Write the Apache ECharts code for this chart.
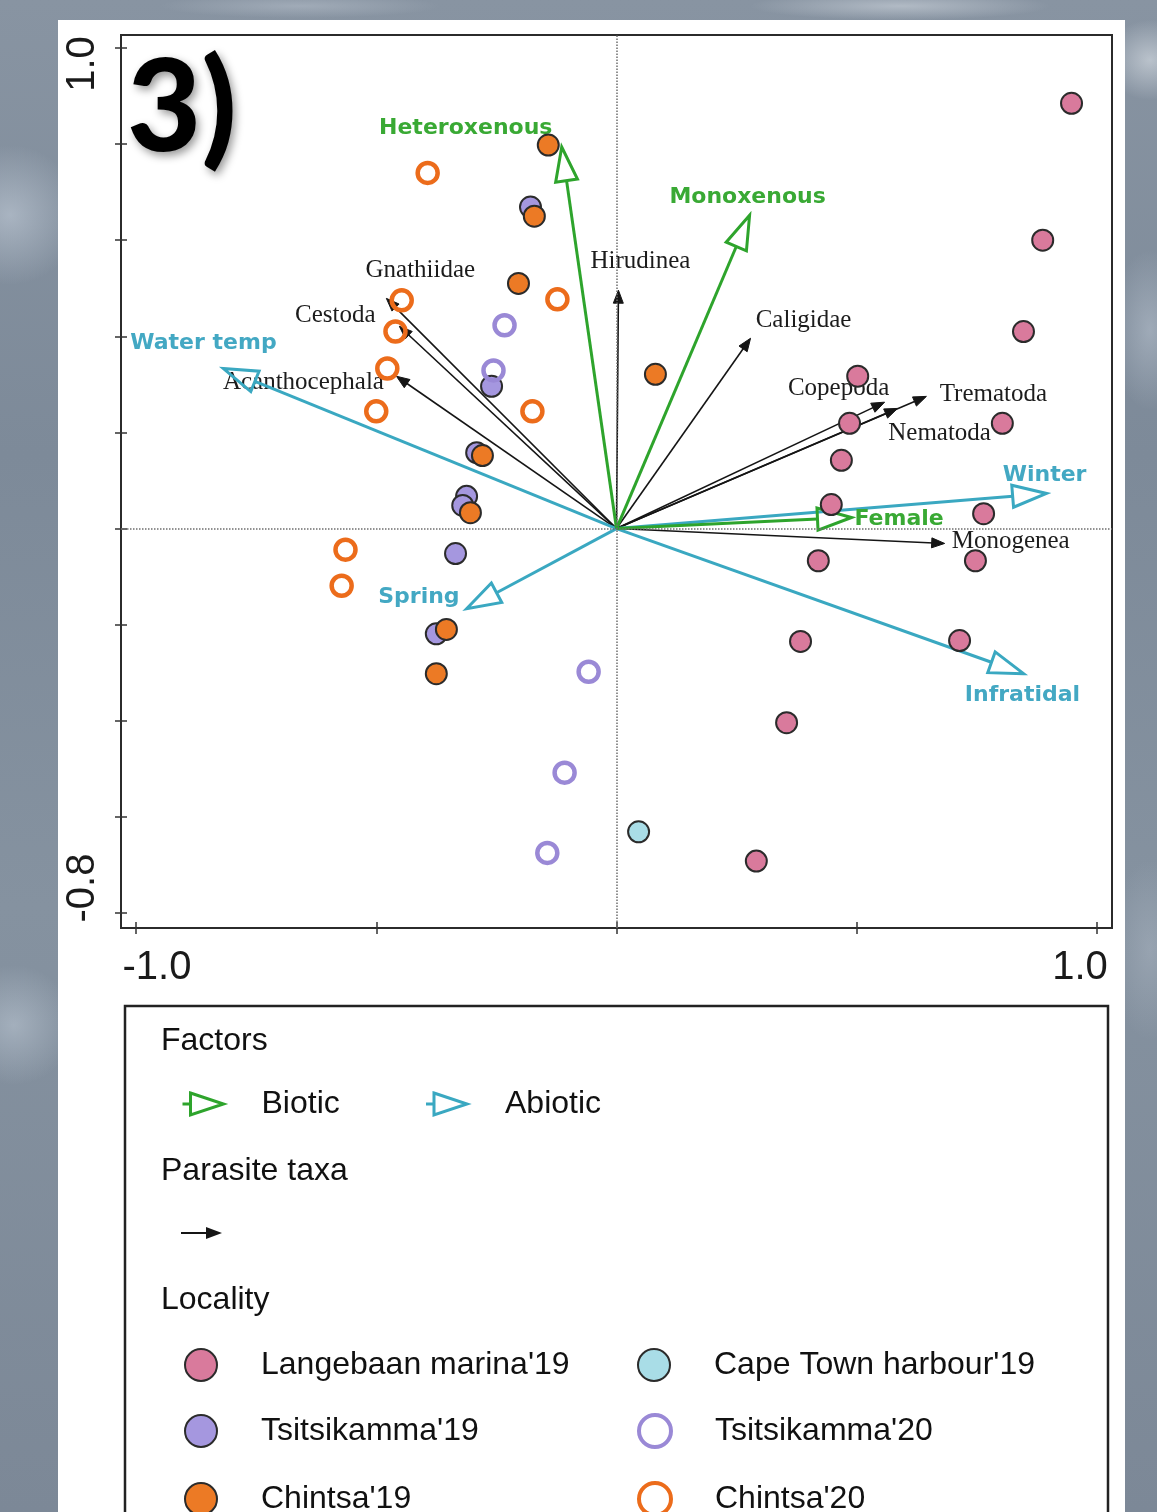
<!DOCTYPE html>
<html>
<head>
<meta charset="utf-8">
<script src="https://cdn.jsdelivr.net/npm/echarts@6/dist/echarts.min.js"></script>
<style>
  html, body { margin: 0; padding: 0; width: 1157px; height: 1512px; overflow: hidden; }
  body {
    background:
      radial-gradient(ellipse 70px 70px at 10px 215px, rgba(200,210,222,0.55), rgba(200,210,222,0) 100%),
      radial-gradient(ellipse 60px 60px at 14px 1025px, rgba(195,206,218,0.5), rgba(195,206,218,0) 100%),
      radial-gradient(ellipse 45px 40px at 1150px 60px, rgba(220,226,232,0.6), rgba(220,226,232,0) 100%),
      radial-gradient(ellipse 40px 80px at 1150px 330px, rgba(190,200,212,0.5), rgba(190,200,212,0) 100%),
      radial-gradient(ellipse 40px 90px at 1150px 950px, rgba(180,190,202,0.4), rgba(180,190,202,0) 100%),
      radial-gradient(ellipse 150px 14px at 900px 6px, rgba(205,212,220,0.6), rgba(205,212,220,0) 100%),
      radial-gradient(ellipse 140px 12px at 300px 6px, rgba(185,194,205,0.5), rgba(185,194,205,0) 100%),
      linear-gradient(180deg, #8894a2 0%, #7d8a99 30%, #8592a0 60%, #7c8897 100%);
  }
  #panel { position: absolute; left: 58px; top: 20px; width: 1067px; height: 1492px; background: #fff; }
  #chart { position: absolute; left: 0; top: 0; width: 1157px; height: 1512px; }
</style>
</head>
<body>
<div id="panel"></div>
<div id="chart"></div>
<script>
// ---- Tick labels shown on the axes ----
const xLabelValues = [-1.0, 1.0];
const yLabelValues = [-0.8, 1.0];

// ---- Sample scores by locality: [axis 1, axis 2] ----
const langebaan19 = [[0.947, 0.885], [0.887, 0.600], [0.847, 0.410], [0.502, 0.317], [0.485, 0.219],
  [0.803, 0.219], [0.468, 0.142], [0.447, 0.050], [0.764, 0.031], [0.420, -0.067], [0.747, -0.067],
  [0.383, -0.235], [0.714, -0.233], [0.354, -0.404], [0.291, -0.692]];
const capeTown19 = [[0.046, -0.631]];
const tsitsikamma19 = [[-0.179, 0.669], [-0.260, 0.296], [-0.291, 0.158], [-0.312, 0.067],
  [-0.320, 0.048], [-0.335, -0.052], [-0.375, -0.219]];
const tsitsikamma20 = [[-0.233, 0.423], [-0.256, 0.329], [-0.058, -0.298], [-0.108, -0.508], [-0.144, -0.675]];
const chintsa19 = [[-0.142, 0.798], [-0.171, 0.650], [-0.204, 0.510], [0.081, 0.321], [-0.279, 0.152],
  [-0.304, 0.033], [-0.354, -0.210], [-0.375, -0.302]];
const chintsa20 = [[-0.393, 0.740], [-0.447, 0.475], [-0.460, 0.410], [-0.477, 0.333], [-0.123, 0.477],
  [-0.500, 0.244], [-0.175, 0.244], [-0.564, -0.044], [-0.572, -0.119]];

// ---- Explanatory vectors: [name, axis 1, axis 2] ----
const bioticFactors = [['Heteroxenous', -0.114, 0.794], ['Monoxenous', 0.277, 0.652], ['Female', 0.489, 0.023]];
const abioticFactors = [['Water temp', -0.818, 0.333], ['Winter', 0.895, 0.073], ['Spring', -0.312, -0.167],
  ['Infratidal', 0.847, -0.302]];
const parasiteTaxa = [['Gnathiidae', -0.479, 0.479], ['Cestoda', -0.452, 0.421], ['Acanthocephala', -0.458, 0.317],
  ['Hirudinea', 0.004, 0.496], ['Caligidae', 0.279, 0.396], ['Copepoda', 0.558, 0.263], ['Nematoda', 0.585, 0.250],
  ['Trematoda', 0.645, 0.275], ['Monogenea', 0.683, -0.031]];

// Label placement next to each arrow tip: [dx px, dy px, text align]
const labelPlacement = {
  'Heteroxenous': [-96, -19, 'center'], 'Monoxenous': [-2, -18, 'center'], 'Female': [3, 2, 'left'],
  'Water temp': [-20, -25, 'center'], 'Winter': [-2, -18, 'center'], 'Spring': [-7, -12, 'right'],
  'Infratidal': [-1, 22, 'center'],
  'Gnathiidae': [34, -28, 'center'], 'Cestoda': [-64, -11, 'center'], 'Acanthocephala': [-93, 6, 'center'],
  'Hirudinea': [22, -29, 'center'], 'Caligidae': [53, -18, 'center'], 'Copepoda': [-46, -14, 'center'],
  'Nematoda': [42, 25, 'center'], 'Trematoda': [67, -2, 'center'], 'Monogenea': [66, -2, 'center']
};

const GREEN = '#2ea42c', GREEN_TEXT = '#39a934';
const CYAN = '#3aa8c1', CYAN_TEXT = '#43a8c3';
const INK = '#151515';
const SANS = '"Liberation Sans", Arial, sans-serif';

function arrowSeries(name, source, look) {
  return {
    type: 'custom', name, coordinateSystem: 'cartesian2d', xAxisIndex: 0, yAxisIndex: 0,
    z: look.z, silent: true,
    data: source.map(d => [d[1], d[2]]),
    encode: { x: 0, y: 1 },
    itemStyle: { color: look.color },
    renderItem(params, api) {
      const label = source[params.dataIndex][0];
      const o = api.coord([0, 0]);
      const t = api.coord([api.value(0), api.value(1)]);
      const dx = t[0] - o[0], dy = t[1] - o[1];
      const len = Math.hypot(dx, dy);
      const ux = dx / len, uy = dy / len, nx = -uy, ny = ux;
      const bx = t[0] - ux * look.headLen, by = t[1] - uy * look.headLen;
      const hw = look.headHalf;
      const head = [[t[0], t[1]], [bx + nx * hw, by + ny * hw], [bx - nx * hw, by - ny * hw]];
      const place = labelPlacement[label] || [0, 0, 'center'];
      return {
        type: 'group',
        children: [
          { type: 'line', shape: { x1: o[0], y1: o[1], x2: look.hollow ? bx : bx + ux * 2, y2: look.hollow ? by : by + uy * 2 },
            style: { stroke: look.color, lineWidth: look.width, fill: null } },
          { type: 'polygon', shape: { points: head },
            style: look.hollow ? { fill: 'rgba(0,0,0,0)', stroke: look.color, lineWidth: look.width, lineJoin: 'miter' }
                               : { fill: look.color, stroke: look.color, lineWidth: 1 } },
          { type: 'text', x: t[0] + place[0], y: t[1] + place[1],
            style: { text: label, fill: look.textColor, font: look.font, align: place[2], verticalAlign: 'middle' } }
        ]
      };
    }
  };
}

const filled = c => ({ color: c, borderColor: '#2b2b2b', borderWidth: 2, opacity: 1 });
const hollow = c => ({ color: 'rgba(0,0,0,0)', borderColor: c, borderWidth: 4.5, opacity: 1 });

const PINK = '#d97a9c', LIGHTBLUE = '#a9dde7', LAVENDER = '#a597df', LAVENDER_RING = '#9a89d6',
  ORANGE = '#ec7a25', ORANGE_RING = '#ec6c1b';

function scatter(name, data, style, size) {
  return { type: 'scatter', name, data, xAxisIndex: 0, yAxisIndex: 0, symbol: 'circle', symbolSize: size,
    itemStyle: style, z: 4, emphasis: { disabled: true } };
}

// Frame grid is 15 px wider than the tick span on left/right/bottom and 13 px on top.
const pxPerUnit = 961 / 2;
const frameX = [-1 - 15 / pxPerUnit, 1 + 15 / pxPerUnit];
const frameY = [-0.8 - 15 / pxPerUnit, 1.0 + 13 / pxPerUnit];

const near = (a, b) => Math.abs(a - b) < 1e-6;
const tickStyle = { show: true, inside: true, length: 12, lineStyle: { color: '#333', width: 1.5 } };
const FACTOR_FONT = 'bold 22px "DejaVu Sans", Verdana, sans-serif';

const chart = echarts.init(document.getElementById('chart'), null, { renderer: 'canvas' });
chart.setOption({
  animation: false,
  backgroundColor: 'transparent',
  grid: [
    { left: 136, right: 60, top: 48, bottom: 599 },
    { left: 121, right: 45, top: 35, bottom: 584, show: true, borderColor: '#2b2b2b', borderWidth: 2,
      backgroundColor: 'rgba(0,0,0,0)' }
  ],
  xAxis: [
    { gridIndex: 0, type: 'value', min: -1, max: 1, interval: 0.5, position: 'bottom', offset: 21,
      axisLine: { show: false, onZero: false }, splitLine: { show: false },
      axisTick: tickStyle,
      axisLabel: {
        margin: 14, color: '#1a1a1a', fontSize: 40, fontFamily: SANS,
        formatter: v => {
          if (near(v, xLabelValues[0])) return '{lo|' + xLabelValues[0].toFixed(1) + '}';
          if (near(v, xLabelValues[1])) return '{hi|' + xLabelValues[1].toFixed(1) + '}';
          return '';
        },
        rich: {
          lo: { fontSize: 40, fontFamily: SANS, color: '#1a1a1a', padding: [0, 0, 0, 42] },
          hi: { fontSize: 40, fontFamily: SANS, color: '#1a1a1a', padding: [0, 34, 0, 0] }
        }
      } },
    { gridIndex: 1, type: 'value', min: frameX[0], max: frameX[1], show: false, axisLine: { onZero: false } }
  ],
  yAxis: [
    { gridIndex: 0, type: 'value', min: -0.8, max: 1.0, interval: 0.2, position: 'left', offset: 21,
      axisLine: { show: false, onZero: false }, splitLine: { show: false },
      axisTick: tickStyle,
      axisLabel: {
        rotate: 90, margin: 12, color: '#1a1a1a', fontSize: 40, fontFamily: SANS,
        formatter: v => {
          if (near(v, yLabelValues[0])) return '{lo|' + yLabelValues[0].toFixed(1) + '}';
          if (near(v, yLabelValues[1])) return '{hi|' + yLabelValues[1].toFixed(1) + '}';
          return '';
        },
        rich: {
          lo: { fontSize: 40, fontFamily: SANS, color: '#1a1a1a', padding: [0, 0, 0, 50] },
          hi: { fontSize: 40, fontFamily: SANS, color: '#1a1a1a', padding: [0, 32, 0, 0] }
        }
      } },
    { gridIndex: 1, type: 'value', min: frameY[0], max: frameY[1], show: false, axisLine: { onZero: false } }
  ],
  legend: [
    { left: 181, top: 1088, padding: 0, orient: 'horizontal', selectedMode: false,
      itemWidth: 41, itemHeight: 24, itemGap: 43,
      textStyle: { fontSize: 32, fontFamily: SANS, color: '#111', width: 120, lineHeight: 32, padding: [0, 0, 0, 33] },
      data: [
        { name: 'Biotic', icon: 'path://M0,12L8,12M8,1L41,12L8,23Z',
          itemStyle: { color: 'rgba(0,0,0,0)', borderColor: GREEN, borderWidth: 3 } },
        { name: 'Abiotic', icon: 'path://M0,12L8,12M8,1L41,12L8,23Z',
          itemStyle: { color: 'rgba(0,0,0,0)', borderColor: CYAN, borderWidth: 3 } }
      ] },
    { left: 181, top: 1227, padding: 0, selectedMode: false, itemWidth: 41, itemHeight: 12,
      formatter: () => '', textStyle: { fontSize: 12, lineHeight: 12 },
      data: [{ name: 'Parasite taxa', icon: 'path://M0,5L28,5L28,7L0,7Z M25,0L41,6L25,12Z',
        itemStyle: { color: INK, borderWidth: 0 } }] },
    { left: 184, top: 1348, width: 900, padding: 0, orient: 'horizontal', selectedMode: false,
      itemWidth: 32, itemHeight: 32, itemGap: 32, icon: 'circle',
      textStyle: { fontSize: 32, fontFamily: SANS, color: '#111', width: 344, lineHeight: 32, padding: [0, 0, 0, 39] },
      data: [
        { name: "Langebaan marina'19", itemStyle: { borderWidth: 2 } },
        { name: "Cape Town harbour'19", itemStyle: { borderWidth: 2 } },
        { name: "Tsitsikamma'19", itemStyle: { borderWidth: 2 } },
        { name: "Tsitsikamma'20", itemStyle: { borderWidth: 4 } },
        { name: "Chintsa'19", itemStyle: { borderWidth: 2 } },
        { name: "Chintsa'20", itemStyle: { borderWidth: 4 } }
      ] }
  ],
  graphic: [
    { type: 'text', x: 127, y: 110, silent: true,
      style: { text: '3)', font: '900 128px Lato, "Open Sans", sans-serif', fill: '#000', verticalAlign: 'middle',
        textShadowColor: 'rgba(0,0,0,0.4)', textShadowBlur: 8, textShadowOffsetX: 3, textShadowOffsetY: 4 } },
    { type: 'rect', silent: true, shape: { x: 125, y: 1006, width: 983, height: 540 },
      style: { fill: 'rgba(0,0,0,0)', stroke: '#222', lineWidth: 2.5 } },
    { type: 'text', x: 161, y: 1041, silent: true,
      style: { text: 'Factors', font: '32px ' + SANS, fill: '#111', verticalAlign: 'middle' } },
    { type: 'text', x: 161, y: 1171, silent: true,
      style: { text: 'Parasite taxa', font: '32px ' + SANS, fill: '#111', verticalAlign: 'middle' } },
    { type: 'text', x: 161, y: 1300, silent: true,
      style: { text: 'Locality', font: '32px ' + SANS, fill: '#111', verticalAlign: 'middle' } }
  ],
  series: [
    // dotted zero lines across the whole frame
    { type: 'scatter', xAxisIndex: 1, yAxisIndex: 1, data: [], silent: true, z: 1,
      markLine: { silent: true, symbol: ['none', 'none'], label: { show: false },
        lineStyle: { type: 'dotted', color: '#6d6d6d', width: 1.5 },
        emphasis: { disabled: true },
        data: [{ xAxis: 0 }, { yAxis: 0 }] } },
    arrowSeries('Parasite taxa', parasiteTaxa, { color: INK, textColor: '#1c1c1c', width: 1.6, headLen: 13, headHalf: 5,
      hollow: false, z: 2, font: '25px "Liberation Serif", "Times New Roman", serif' }),
    arrowSeries('Abiotic', abioticFactors, { color: CYAN, textColor: CYAN_TEXT, width: 3, headLen: 34, headHalf: 11,
      hollow: true, z: 3, font: FACTOR_FONT }),
    arrowSeries('Biotic', bioticFactors, { color: GREEN, textColor: GREEN_TEXT, width: 3, headLen: 34, headHalf: 11,
      hollow: true, z: 3, font: FACTOR_FONT }),
    scatter("Langebaan marina'19", langebaan19, filled(PINK), 21),
    scatter("Cape Town harbour'19", capeTown19, filled(LIGHTBLUE), 21),
    scatter("Tsitsikamma'19", tsitsikamma19, filled(LAVENDER), 21),
    scatter("Tsitsikamma'20", tsitsikamma20, hollow(LAVENDER_RING), 20),
    scatter("Chintsa'19", chintsa19, filled(ORANGE), 21),
    scatter("Chintsa'20", chintsa20, hollow(ORANGE_RING), 20)
  ]
});
</script>
</body>
</html>
